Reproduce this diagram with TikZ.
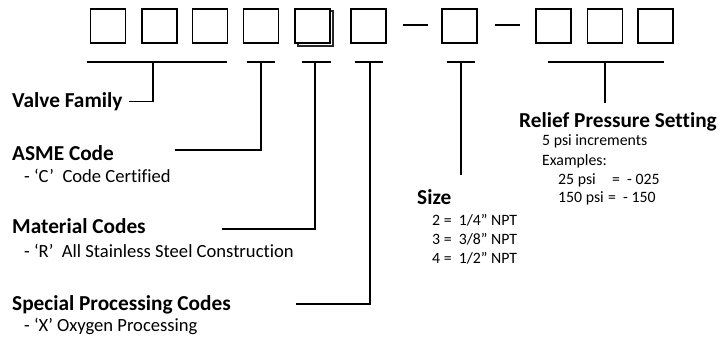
\documentclass[tikz,border=0pt]{standalone}
\usepackage{fontspec}
\setmainfont{Carlito}[Ligatures={NoCommon},RawFeature={-liga;-clig}]
\begin{document}
\begin{tikzpicture}[x=1pt,y=-1pt,
  digit/.style={draw,line width=1.8pt,fill=white,minimum width=35pt,minimum height=34pt,inner sep=0pt},
  conn/.style={line width=1.6pt},
  head/.style={anchor=base west,inner sep=0pt,font=\fontsize{21.3}{25}\selectfont\bfseries},
  bodyl/.style={anchor=base west,inner sep=0pt,font=\fontsize{18.6}{22}\selectfont},
  bodyr/.style={anchor=base west,inner sep=0pt,font=\fontsize{15.8}{19}\selectfont}]
\useasboundingbox (0,0) rectangle (718,337);
% shadow of box 5
\draw[line width=1.4pt,draw=black!85] (298,11) rectangle (333,46);
% digit boxes
\node[digit] (b1) at (108,26) {};
\node[digit] (b2) at (159.5,26) {};
\node[digit] (b3) at (210,26) {};
\node[digit] (b4) at (261,26) {};
\node[digit] (b5) at (312.5,26) {};
\node[digit] (b6) at (368.5,26) {};
\node[digit] (b7) at (459.5,26) {};
\node[digit] (b8) at (553.5,26) {};
\node[digit] (b9) at (605,26) {};
\node[digit] (b10) at (655.5,26) {};
% dashes
\coordinate (d1a) at (403,25); \coordinate (d1b) at (428,25);
\coordinate (d2a) at (495,25); \coordinate (d2b) at (520,25);
\draw[conn] (d1a) -- (d1b);
\draw[conn] (d2a) -- (d2b);
% labels
\node[head] (vf) at (12,107) {Valve Family};
\node[head] (asme) at (12,160) {ASME Code};
\node[bodyl] (asme1) at (24,182) {- ‘C’\ \ Code Certified};
\node[head] (mat) at (12,233.5) {Material Codes};
\node[bodyl] (mat1) at (24,257) {- ‘R’\ \ All Stainless Steel Construction};
\node[head] (spc) at (12,310) {Special Processing Codes};
\node[bodyl] (spc1) at (24,331) {- ‘X’ Oxygen Processing};
\node[head] (size) at (417,204) {Size};
\node[bodyr] (s1) at (432,225) {2 =\ \ 1/4” NPT};
\node[bodyr] (s2) at (432,244) {3 =\ \ 3/8” NPT};
\node[bodyr] (s3) at (432,263) {4 =\ \ 1/2” NPT};
\node[head] (rps) at (519,128) {Relief Pressure Setting};
\node[bodyr] (r1) at (542,146) {5 psi increments};
\node[bodyr] (r2) at (542,165) {Examples:};
\node[bodyr] (r3a) at (558,184) {25 psi};
\node[bodyr] (r3b) at (612,184) {=\ \ - 025};
\node[bodyr] (r4a) at (558,202) {150 psi};
\node[bodyr] (r4b) at (608,202) {=\ \ - 150};
% brackets and leaders
\coordinate (vfL) at (87,62); \coordinate (vfR) at (227,62); \coordinate (vfM) at (153,62); \coordinate (vfE) at (129,101.5);
\draw[conn] (vfL) -- (vfR); \draw[conn] (vfM) |- (vfE);
\coordinate (asL) at (247,62); \coordinate (asR) at (275,62); \coordinate (asM) at (261,62); \coordinate (asE) at (175,150);
\draw[conn] (asL) -- (asR); \draw[conn] (asM) |- (asE);
\coordinate (maL) at (302,62); \coordinate (maR) at (331,62); \coordinate (maM) at (315,62); \coordinate (maE) at (222,229);
\draw[conn] (maL) -- (maR); \draw[conn] (maM) |- (maE);
\coordinate (spL) at (355,62); \coordinate (spR) at (383,62); \coordinate (spM) at (370,62); \coordinate (spE) at (296,304);
\draw[conn] (spL) -- (spR); \draw[conn] (spM) |- (spE);
\coordinate (szL) at (447,62); \coordinate (szR) at (475,62); \coordinate (szM) at (461,62); \coordinate (szE) at (461,175);
\draw[conn] (szL) -- (szR); \draw[conn] (szM) -- (szE);
\coordinate (rpL) at (548,62); \coordinate (rpR) at (664,62); \coordinate (rpM) at (605,62); \coordinate (rpE) at (605,103);
\draw[conn] (rpL) -- (rpR); \draw[conn] (rpM) -- (rpE);
\end{tikzpicture}
\end{document}
